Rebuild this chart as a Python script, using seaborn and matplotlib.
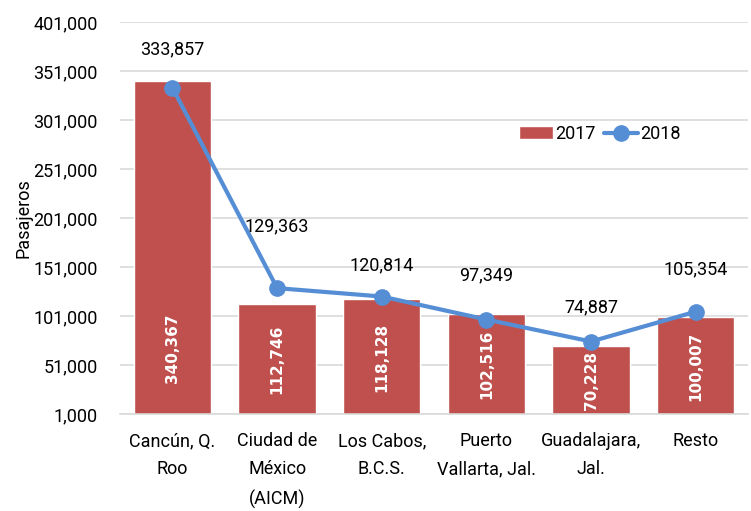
import numpy as np
import pandas as pd
import matplotlib.pyplot as plt
import seaborn as sns

# Data
destinos = ["Cancún, Q.\nRoo", "Ciudad de\nMéxico\n(AICM)", "Los Cabos,\nB.C.S.",
            "Puerto\nVallarta, Jal.", "Guadalajara,\nJal.", "Resto"]
pasajeros_2017 = [340367, 112746, 118128, 102516, 70228, 100007]
pasajeros_2018 = [333857, 129363, 120814, 97349, 74887, 105354]
y_ticks = [1000, 51000, 101000, 151000, 201000, 251000, 301000, 351000, 401000]

df = pd.DataFrame({"destino": destinos, "p2017": pasajeros_2017, "p2018": pasajeros_2018})

sns.set_style("white")
plt.rcParams["font.family"] = ["Roboto", "DejaVu Sans"]
plt.rcParams["text.color"] = "black"
plt.rcParams["xtick.color"] = "black"
plt.rcParams["ytick.color"] = "black"
plt.rcParams["axes.labelcolor"] = "black"

bar_color = "#C0504D"
line_color = "#558ED5"

fig = plt.figure(figsize=(7.51, 5.11), dpi=100)
ax = fig.add_axes([0.16, 0.19, 0.836, 0.767])

sns.barplot(data=df, x="destino", y="p2017", color=bar_color, width=0.74,
            saturation=1, ax=ax, label="2017", zorder=2)

x_pos = np.arange(len(destinos))
ax.plot(x_pos, df["p2018"], color=line_color, lw=3, marker="o", markersize=11,
        label="2018", zorder=3)

# bar labels (white, rotated)
for i, v in enumerate(pasajeros_2017):
    ax.text(i, min(v / 2, 68000), f"{v:,}", rotation=90, ha="center", va="center",
            color="white", fontsize=11, fontweight="bold", family="DejaVu Sans", zorder=4)

# line labels
label_offsets = [21, 38, 16, 25, 18, 24]
for i, v in enumerate(pasajeros_2018):
    ax.annotate(f"{v:,}", (i, v), xytext=(0, label_offsets[i]), textcoords="offset points",
                ha="center", va="bottom", fontsize=13, color="black")

ax.set_ylim(1000, 401000)
ax.set_xlim(-0.5, 5.5)
ax.set_yticks(y_ticks)
ax.set_yticklabels([f"{t:,}" for t in y_ticks], fontsize=13)
ax.tick_params(axis="x", labelsize=13, length=0, pad=13)
ax.tick_params(axis="y", length=0, pad=16)
for lbl in ax.get_xticklabels():
    lbl.set_linespacing(1.75)
    lbl.set_va("top")

ax.yaxis.grid(True, color="#D9D9D9", lw=1.2, zorder=0)
ax.set_axisbelow(True)
for s in ["left", "right", "top"]:
    ax.spines[s].set_visible(False)
ax.spines["bottom"].set_color("#D9D9D9")
ax.spines["bottom"].set_linewidth(1.2)

ax.set_xlabel("")
ax.set_ylabel("Pasajeros", fontsize=13, labelpad=1)

handles, labels = ax.get_legend_handles_labels()
order = [labels.index("2017"), labels.index("2018")]
ax.legend([handles[k] for k in order], [labels[k] for k in order],
          loc="center left", bbox_to_anchor=(0.61, 0.714), frameon=False, ncol=2,
          fontsize=13, handlelength=1.85, handletextpad=0.12, columnspacing=0.5)

plt.savefig("out.png", dpi=100)
